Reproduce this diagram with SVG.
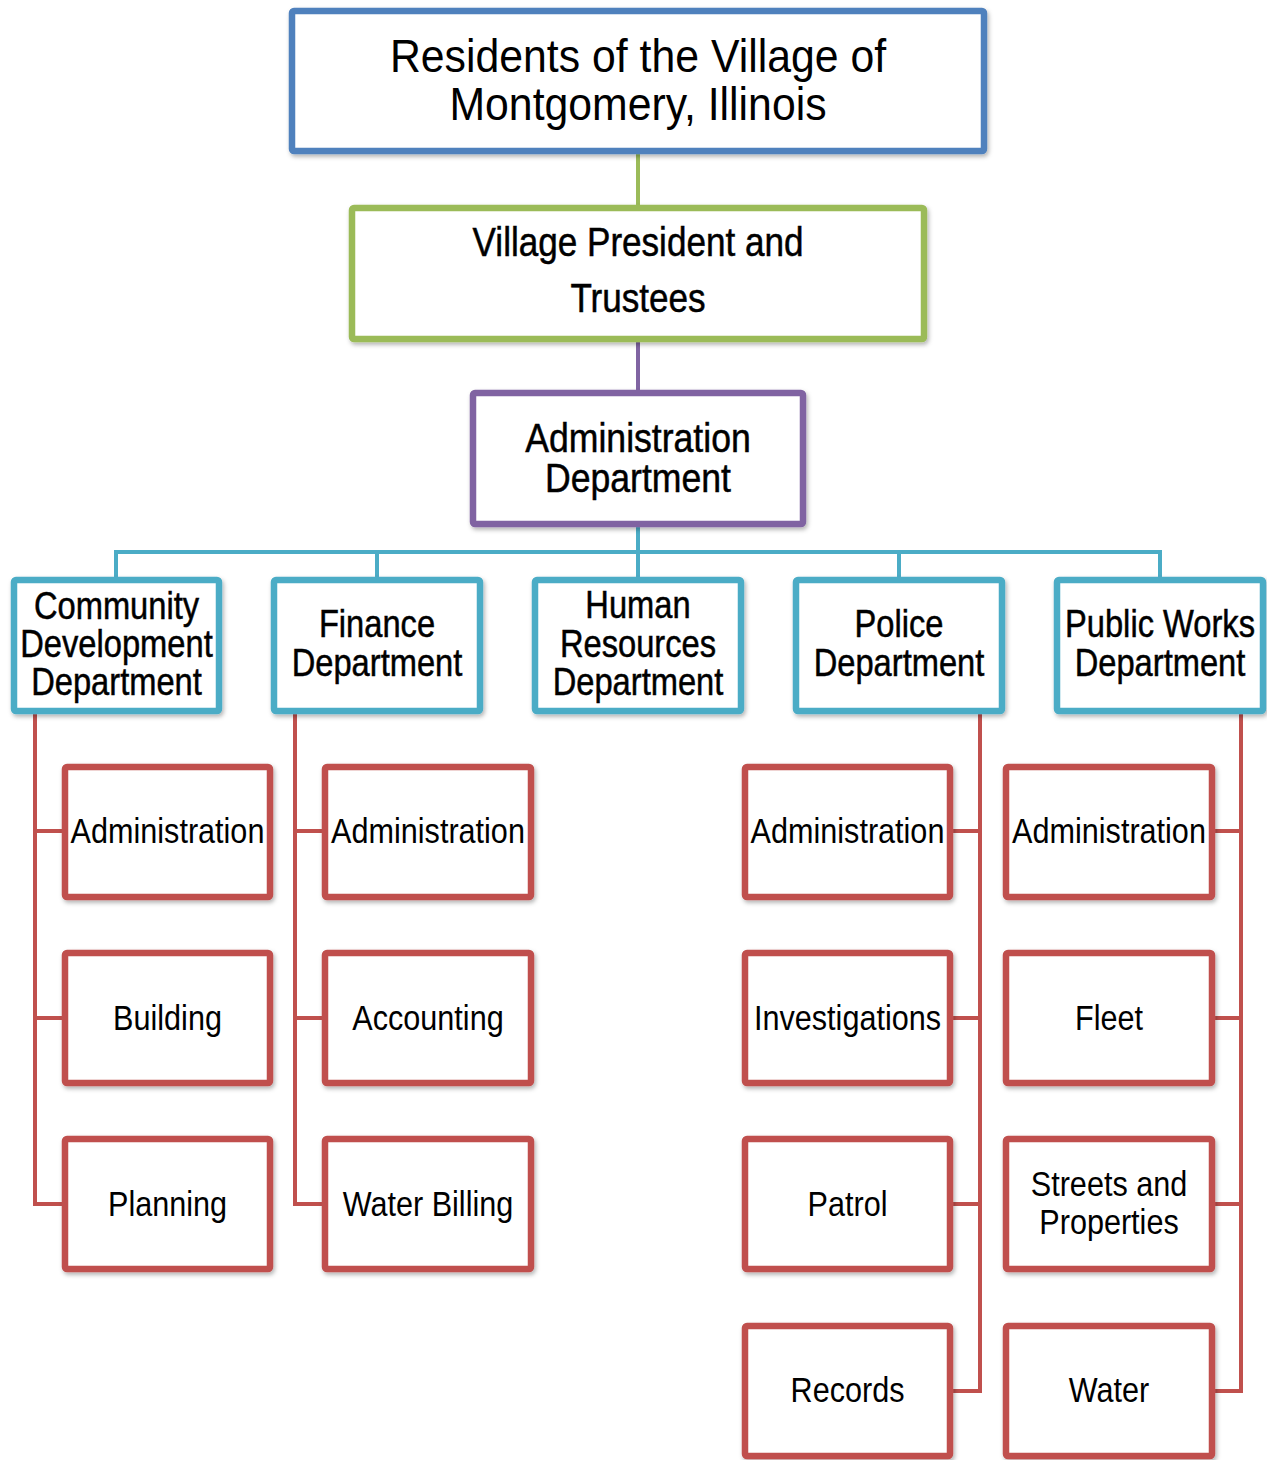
<svg xmlns="http://www.w3.org/2000/svg" width="1267" height="1460" viewBox="0 0 1267 1460">
<defs>
<filter id="sh" x="-5%" y="-5%" width="115%" height="120%">
<feDropShadow dx="1.5" dy="2.5" stdDeviation="2" flood-color="#000" flood-opacity="0.3"/>
</filter>
<style>
text{font-family:"Liberation Sans",Arial,sans-serif;fill:#000;text-anchor:middle}
.box{fill:#fff;stroke-width:6.5;filter:url(#sh)}
.blue{stroke:#4F81BD}
.green{stroke:#9BBB59}
.purple{stroke:#8064A2}
.cyan{stroke:#4BACC6}
.red{stroke:#C0504D}
.ln{fill:none;stroke-width:4}
.top{font-size:46px}
.hd{font-size:40px;stroke:#000;stroke-width:0.5}
.dp{font-size:38px;stroke:#000;stroke-width:0.5}
.sb{font-size:36px}
</style>
</defs>
<rect width="1267" height="1460" fill="#fff"/>
<g id="connectors">
<line class="ln green" x1="638" y1="154" x2="638" y2="206"/>
<line class="ln purple" x1="638" y1="341" x2="638" y2="392"/>
<polyline class="ln cyan" points="638,526 638,552"/>
<polyline class="ln cyan" points="116,579 116,552 1160,552 1160,579"/>
<line class="ln cyan" x1="377" y1="552" x2="377" y2="579"/>
<line class="ln cyan" x1="638" y1="552" x2="638" y2="579"/>
<line class="ln cyan" x1="899" y1="552" x2="899" y2="579"/>
<polyline class="ln red" points="35,713 35,1204 63,1204"/>
<line class="ln red" x1="35" y1="831" x2="63" y2="831"/>
<line class="ln red" x1="35" y1="1018" x2="63" y2="1018"/>
<polyline class="ln red" points="295,713 295,1204 323,1204"/>
<line class="ln red" x1="295" y1="831" x2="323" y2="831"/>
<line class="ln red" x1="295" y1="1018" x2="323" y2="1018"/>
<polyline class="ln red" points="980,713 980,1391 952,1391"/>
<line class="ln red" x1="952" y1="831" x2="980" y2="831"/>
<line class="ln red" x1="952" y1="1018" x2="980" y2="1018"/>
<line class="ln red" x1="952" y1="1204" x2="980" y2="1204"/>
<polyline class="ln red" points="1241,713 1241,1391 1213,1391"/>
<line class="ln red" x1="1213" y1="831" x2="1241" y2="831"/>
<line class="ln red" x1="1213" y1="1018" x2="1241" y2="1018"/>
<line class="ln red" x1="1213" y1="1204" x2="1241" y2="1204"/>
</g>
<g id="residents">
<rect class="box blue" x="292" y="11" width="692" height="140" rx="2"/>
<g transform="translate(638,0) scale(0.93,1)">
<text class="top" x="0" y="72">Residents of the Village of</text>
<text class="top" x="0" y="120">Montgomery, Illinois</text>
</g>
</g>
<g id="president">
<rect class="box green" x="352" y="208" width="572" height="131" rx="2"/>
<g transform="translate(638,0) scale(0.877,1)">
<text class="hd" x="0" y="256">Village President and</text>
<text class="hd" x="0" y="312">Trustees</text>
</g>
</g>
<g id="admin-dept">
<rect class="box purple" x="473" y="393" width="330" height="131" rx="2"/>
<g transform="translate(638,0) scale(0.89,1)">
<text class="hd" x="0" y="452">Administration</text>
<text class="hd" x="0" y="492">Department</text>
</g>
</g>
<g id="community-dev">
<rect class="box cyan" x="14" y="580" width="205" height="131" rx="2"/>
<g transform="translate(116.5,0) scale(0.86,1)">
<text class="dp" x="0" y="619">Community</text>
<text class="dp" x="0" y="657">Development</text>
<text class="dp" x="0" y="695">Department</text>
</g>
</g>
<g id="finance">
<rect class="box cyan" x="274" y="580" width="206" height="131" rx="2"/>
<g transform="translate(377,0) scale(0.86,1)">
<text class="dp" x="0" y="637">Finance</text>
<text class="dp" x="0" y="676">Department</text>
</g>
</g>
<g id="hr">
<rect class="box cyan" x="535" y="580" width="206" height="131" rx="2"/>
<g transform="translate(638,0) scale(0.86,1)">
<text class="dp" x="0" y="618">Human</text>
<text class="dp" x="0" y="657">Resources</text>
<text class="dp" x="0" y="695">Department</text>
</g>
</g>
<g id="police">
<rect class="box cyan" x="796" y="580" width="206" height="131" rx="2"/>
<g transform="translate(899,0) scale(0.86,1)">
<text class="dp" x="0" y="637">Police</text>
<text class="dp" x="0" y="676">Department</text>
</g>
</g>
<g id="public-works">
<rect class="box cyan" x="1057" y="580" width="206" height="131" rx="2"/>
<g transform="translate(1160,0) scale(0.86,1)">
<text class="dp" x="0" y="637">Public Works</text>
<text class="dp" x="0" y="676">Department</text>
</g>
</g>
<g id="cd-admin"><rect class="box red" x="65" y="767" width="205" height="130" rx="2"/><g transform="translate(167.5,0) scale(0.85,1)"><text class="sb" x="0" y="843">Administration</text></g></g>
<g id="cd-building"><rect class="box red" x="65" y="953" width="205" height="130" rx="2"/><g transform="translate(167.5,0) scale(0.85,1)"><text class="sb" x="0" y="1030">Building</text></g></g>
<g id="cd-planning"><rect class="box red" x="65" y="1139" width="205" height="130" rx="2"/><g transform="translate(167.5,0) scale(0.85,1)"><text class="sb" x="0" y="1216">Planning</text></g></g>
<g id="fin-admin"><rect class="box red" x="325" y="767" width="206" height="130" rx="2"/><g transform="translate(428,0) scale(0.85,1)"><text class="sb" x="0" y="843">Administration</text></g></g>
<g id="fin-accounting"><rect class="box red" x="325" y="953" width="206" height="130" rx="2"/><g transform="translate(428,0) scale(0.85,1)"><text class="sb" x="0" y="1030">Accounting</text></g></g>
<g id="fin-water-billing"><rect class="box red" x="325" y="1139" width="206" height="130" rx="2"/><g transform="translate(428,0) scale(0.85,1)"><text class="sb" x="0" y="1216">Water Billing</text></g></g>
<g id="pol-admin"><rect class="box red" x="745" y="767" width="205" height="130" rx="2"/><g transform="translate(847.5,0) scale(0.85,1)"><text class="sb" x="0" y="843">Administration</text></g></g>
<g id="pol-investigations"><rect class="box red" x="745" y="953" width="205" height="130" rx="2"/><g transform="translate(847.5,0) scale(0.85,1)"><text class="sb" x="0" y="1030">Investigations</text></g></g>
<g id="pol-patrol"><rect class="box red" x="745" y="1139" width="205" height="130" rx="2"/><g transform="translate(847.5,0) scale(0.85,1)"><text class="sb" x="0" y="1216">Patrol</text></g></g>
<g id="pol-records"><rect class="box red" x="745" y="1326" width="205" height="130" rx="2"/><g transform="translate(847.5,0) scale(0.85,1)"><text class="sb" x="0" y="1402">Records</text></g></g>
<g id="pw-admin"><rect class="box red" x="1006" y="767" width="206" height="130" rx="2"/><g transform="translate(1109,0) scale(0.85,1)"><text class="sb" x="0" y="843">Administration</text></g></g>
<g id="pw-fleet"><rect class="box red" x="1006" y="953" width="206" height="130" rx="2"/><g transform="translate(1109,0) scale(0.85,1)"><text class="sb" x="0" y="1030">Fleet</text></g></g>
<g id="pw-streets"><rect class="box red" x="1006" y="1139" width="206" height="130" rx="2"/><g transform="translate(1109,0) scale(0.85,1)"><text class="sb" x="0" y="1196">Streets and</text><text class="sb" x="0" y="1234">Properties</text></g></g>
<g id="pw-water"><rect class="box red" x="1006" y="1326" width="206" height="130" rx="2"/><g transform="translate(1109,0) scale(0.85,1)"><text class="sb" x="0" y="1402">Water</text></g></g>
</svg>
